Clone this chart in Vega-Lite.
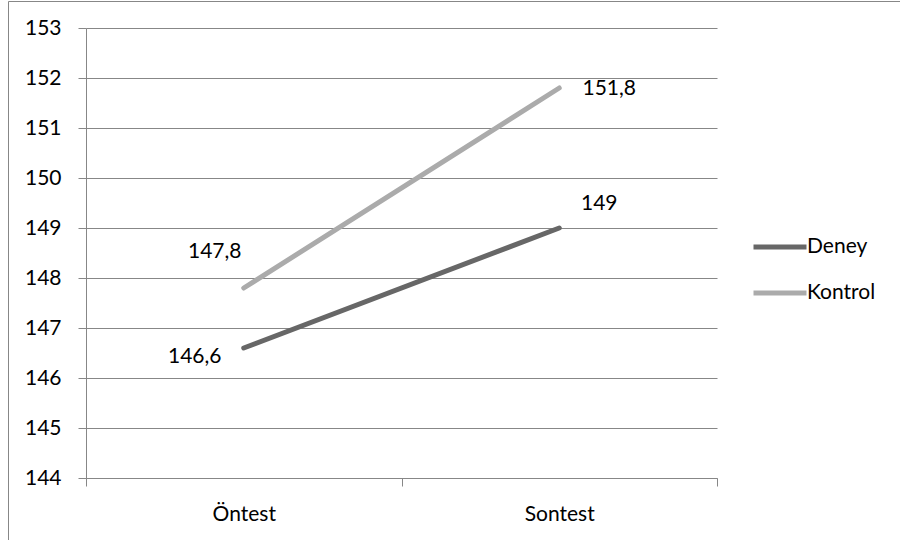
{
  "$schema": "https://vega.github.io/schema/vega-lite/v6.json",
  "autosize": "none",
  "padding": {"left": 8, "top": 1, "right": 0, "bottom": 0},
  "width": 892,
  "height": 539,
  "background": "white",
  "config": {
    "view": {"stroke": "#878787", "strokeWidth": 1},
    "font": "Lato",
    "locale": {"number": {"decimal": ",", "thousands": ".", "grouping": [3], "currency": ["", ""]}},
    "axis": {
      "labelFont": "Lato",
      "labelFontSize": 21,
      "labelColor": "#000000",
      "domainColor": "#878787",
      "tickColor": "#878787",
      "gridColor": "#878787",
      "title": null
    }
  },
  "data": {
    "values": [
      {"grup": "Deney", "test": "Öntest", "puan": 146.6},
      {"grup": "Deney", "test": "Sontest", "puan": 149},
      {"grup": "Kontrol", "test": "Öntest", "puan": 147.8},
      {"grup": "Kontrol", "test": "Sontest", "puan": 151.8}
    ]
  },
  "encoding": {
    "x": {
      "field": "test",
      "type": "nominal",
      "sort": ["Öntest", "Sontest"],
      "bandPosition": 0.5,
      "scale": {"type": "band", "range": [78, 709], "paddingInner": 0, "paddingOuter": 0},
      "axis": {
        "orient": "bottom",
        "offset": -62,
        "labelAngle": 0,
        "tickBand": "extent",
        "tickSize": 8,
        "labelPadding": 17,
        "grid": false,
        "domainWidth": 1
      }
    },
    "y": {
      "field": "puan",
      "type": "quantitative",
      "scale": {"domain": [144, 153], "range": [477, 27], "nice": false, "zero": false},
      "axis": {
        "orient": "left",
        "offset": -78,
        "values": [144, 145, 146, 147, 148, 149, 150, 151, 152, 153],
        "format": "d",
        "tickSize": 8,
        "labelPadding": 17,
        "grid": true,
        "gridWidth": 1,
        "domain": true
      }
    }
  },
  "layer": [
    {
      "mark": {"type": "line", "strokeWidth": 5, "strokeCap": "round"},
      "encoding": {
        "color": {
          "field": "grup",
          "type": "nominal",
          "scale": {"domain": ["Deney", "Kontrol"], "range": ["#676767", "#ababab"]},
          "legend": {
            "title": null,
            "orient": "none",
            "legendX": 743,
            "legendY": 217,
            "symbolType": "stroke",
            "symbolSize": 2809,
            "symbolStrokeWidth": 5,
            "labelFont": "Lato",
            "labelFontSize": 21,
            "labelColor": "#000000",
            "labelOffset": -2,
            "rowPadding": 7
          }
        }
      }
    },
    {
      "transform": [{"filter": "datum.grup === 'Kontrol' && datum.test === 'Öntest'"}],
      "mark": {"type": "text", "font": "Lato", "fontSize": 21, "color": "#000000", "dx": -29, "dy": -36},
      "encoding": {"text": {"field": "puan", "type": "quantitative", "format": ".1~f"}}
    },
    {
      "transform": [{"filter": "datum.grup === 'Deney' && datum.test === 'Öntest'"}],
      "mark": {"type": "text", "font": "Lato", "fontSize": 21, "color": "#000000", "dx": -49, "dy": 9},
      "encoding": {"text": {"field": "puan", "type": "quantitative", "format": ".1~f"}}
    },
    {
      "transform": [{"filter": "datum.grup === 'Kontrol' && datum.test === 'Sontest'"}],
      "mark": {"type": "text", "font": "Lato", "fontSize": 21, "color": "#000000", "dx": 50, "dy": 1},
      "encoding": {"text": {"field": "puan", "type": "quantitative", "format": ".1~f"}}
    },
    {
      "transform": [{"filter": "datum.grup === 'Deney' && datum.test === 'Sontest'"}],
      "mark": {"type": "text", "font": "Lato", "fontSize": 21, "color": "#000000", "dx": 40, "dy": -24},
      "encoding": {"text": {"field": "puan", "type": "quantitative", "format": ".1~f"}}
    }
  ]
}
